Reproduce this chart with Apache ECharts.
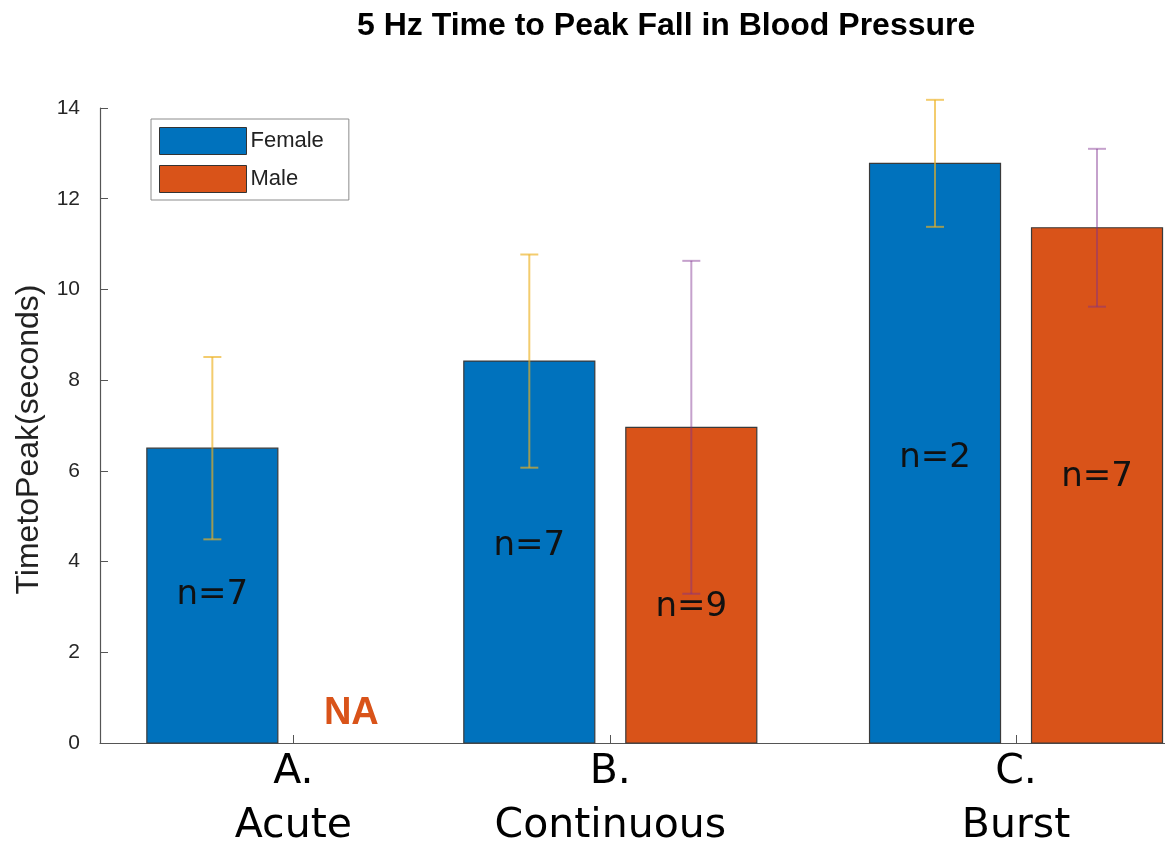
<!DOCTYPE html>
<html>
<head>
<meta charset="utf-8">
<script src="https://cdn.jsdelivr.net/npm/echarts@6/dist/echarts.min.js"></script>
<style>html,body{margin:0;padding:0;background:#fff;overflow:hidden}#c{width:1165px;height:853px}</style>
</head>
<body>
<div id="c"></div>
<script>
// ---- data ----
const categories = ['A.\nAcute', 'B.\nContinuous', 'C.\nBurst'];
const groupX = [1, 2, 3.28];
const female = [6.50, 8.42, 12.78];
const femaleErr = [2.01, 2.35, 1.40];
const male = [null, 6.96, 11.36];
const maleErr = [null, 3.67, 1.74];
const femaleN = ['n=7', 'n=7', 'n=2'];
const maleN = ['NA', 'n=9', 'n=7'];
const femaleNAt = [3.26, 4.35, 6.29];
const maleNAt = [0.64, 3.0, 5.87];

// ---- styles ----
const BLUE = '#0072BD', ORANGE = '#D95319';
const BAR_W = 131, OFF = 81, CAP = 18;

const chart = echarts.init(document.getElementById('c'), null, {renderer: 'canvas'});

function barSeries(name, color, vals, labels, labelAt, side) {
  return {
    type: 'custom', name: name, z: 2,
    itemStyle: {color: color, borderColor: '#333', borderWidth: 1},
    encode: {x: 0, y: 1},
    data: groupX.map((x, i) => [x, vals[i] == null ? 0 : vals[i]]),
    renderItem: function (params, api) {
      const i = params.dataIndex;
      const base = api.coord([groupX[i], 0]);
      const cx = base[0] + side * OFF;
      const children = [];
      const ly = api.coord([groupX[i], labelAt[i]])[1];
      if (vals[i] != null) {
        const top = api.coord([groupX[i], vals[i]]);
        children.push({
          type: 'rect',
          shape: {x: cx - BAR_W / 2, y: top[1], width: BAR_W, height: base[1] - top[1]},
          style: {fill: color, stroke: '#3a3a3a', lineWidth: 1.2}
        });
        children.push({
          type: 'text', z2: 10,
          style: {text: labels[i], x: cx, y: ly, align: 'center', verticalAlign: 'middle',
            fontFamily: 'DejaVu Sans', fontSize: 34, fill: '#111'}
        });
      } else {
        children.push({
          type: 'text', z2: 10,
          style: {text: labels[i], x: cx - 23, y: ly, align: 'center', verticalAlign: 'middle',
            fontFamily: 'Liberation Sans', fontWeight: 'bold', fontSize: 38, fill: ORANGE}
        });
      }
      return {type: 'group', children: children};
    }
  };
}

function errSeries(color, opacity, vals, errs, side) {
  return {
    type: 'custom', z: 3, silent: true,
    encode: {x: 0, y: 1},
    data: groupX.map((x, i) => [x, vals[i] == null ? 0 : vals[i]]),
    renderItem: function (params, api) {
      const i = params.dataIndex;
      if (vals[i] == null) return null;
      const hi = api.coord([groupX[i], vals[i] + errs[i]]);
      const lo = api.coord([groupX[i], vals[i] - errs[i]]);
      const cx = hi[0] + side * OFF;
      const st = {stroke: color, lineWidth: 2, opacity: opacity};
      return {type: 'group', children: [
        {type: 'line', shape: {x1: cx, y1: hi[1], x2: cx, y2: lo[1]}, style: st},
        {type: 'line', shape: {x1: cx - CAP / 2, y1: hi[1], x2: cx + CAP / 2, y2: hi[1]}, style: st},
        {type: 'line', shape: {x1: cx - CAP / 2, y1: lo[1], x2: cx + CAP / 2, y2: lo[1]}, style: st}
      ]};
    }
  };
}

const option = {
  backgroundColor: '#fff',
  animation: false,
  title: {
    text: '5 Hz Time to Peak Fall in Blood Pressure',
    left: 352, top: 5,
    textStyle: {fontFamily: 'Liberation Sans', fontWeight: 'bold', fontSize: 32, color: '#000'}
  },
  legend: {
    data: ['Female', 'Male'],
    orient: 'vertical', left: 151, top: 119,
    icon: 'rect', itemWidth: 87, itemHeight: 27, itemGap: 10,
    padding: [8, 25, 7, 8],
    backgroundColor: '#fff', borderColor: '#8c8c8c', borderWidth: 1, borderRadius: 0,
    itemStyle: {borderColor: '#333', borderWidth: 1},
    textStyle: {fontFamily: 'Liberation Sans', fontSize: 22, color: '#222', padding: [0, 0, 0, -1]}
  },
  grid: {left: 100, right: 0, top: 108, bottom: 103, containLabel: false},
  xAxis: {
    type: 'value', min: 0.39, max: 3.75,
    splitLine: {show: false},
    axisLine: {show: true, lineStyle: {color: '#555', width: 1.2}},
    axisTick: {show: true, inside: true, length: 8, customValues: groupX, lineStyle: {color: '#555'}},
    axisLabel: {
      customValues: groupX,
      formatter: function (v) {
        let best = 0;
        groupX.forEach((g, i) => { if (Math.abs(g - v) < Math.abs(groupX[best] - v)) best = i; });
        return categories[best];
      },
      fontFamily: 'DejaVu Sans', fontSize: 41, lineHeight: 54, color: '#000', margin: 2
    }
  },
  yAxis: {
    type: 'value', min: 0, max: 14, interval: 2,
    name: 'TimetoPeak(seconds)', nameLocation: 'middle', nameRotate: 90, nameGap: 55,
    nameTextStyle: {fontFamily: 'Liberation Sans', fontSize: 32, color: '#222', padding: [0, 28, 0, 0]},
    splitLine: {show: false},
    axisLine: {show: true, lineStyle: {color: '#555', width: 1.2}},
    axisTick: {show: true, inside: true, length: 8, lineStyle: {color: '#555'}},
    axisLabel: {fontFamily: 'Liberation Sans', fontSize: 21, color: '#262626', margin: 20}
  },
  series: [
    barSeries('Female', BLUE, female, femaleN, femaleNAt, -1),
    barSeries('Male', ORANGE, male, maleN, maleNAt, 1),
    errSeries('#EDB120', 0.65, female, femaleErr, -1),
    errSeries('#7E2F8E', 0.45, male, maleErr, 1)
  ]
};
chart.setOption(option);
</script>
</body>
</html>
